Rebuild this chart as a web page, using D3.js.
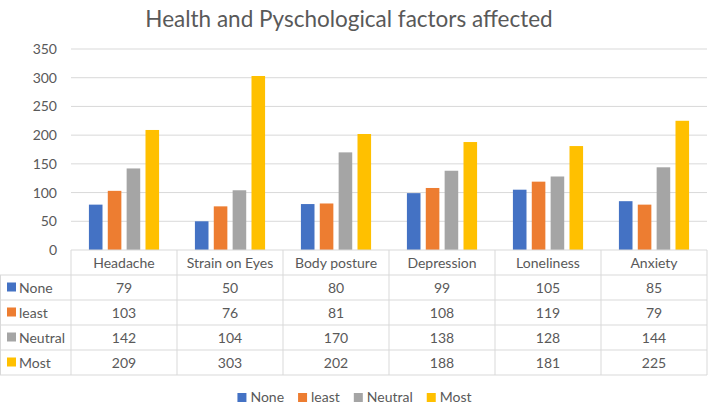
<!DOCTYPE html>
<html>
<head>
<meta charset="utf-8">
<script src="https://cdn.jsdelivr.net/npm/d3@7"></script>
<style>
  body { margin: 0; background: #fff; }
  svg text { font-family: Lato, "Open Sans", sans-serif; fill: #595959; }
</style>
</head>
<body>
<svg id="chart"></svg>
<script>
const categories = ['Headache', 'Strain on Eyes', 'Body posture', 'Depression', 'Loneliness', 'Anxiety'];
const seriesNames = ['None', 'least', 'Neutral', 'Most'];
const noneVals = [79, 50, 80, 99, 105, 85];
const leastVals = [103, 76, 81, 108, 119, 79];
const neutralVals = [142, 104, 170, 138, 128, 144];
const mostVals = [209, 303, 202, 188, 181, 225];
const yTicks = [0, 50, 100, 150, 200, 250, 300, 350];

const seriesValues = [noneVals, leastVals, neutralVals, mostVals];
const colors = ['#4472C4', '#ED7D31', '#A5A5A5', '#FFC000'];

const W = 709, H = 408;
const plotLeft = 71, plotRight = 707, plotTop = 49, base = 250;
const rowH = 25;

const svg = d3.select('#chart')
  .attr('width', W)
  .attr('height', H);

// title
svg.append('text')
  .attr('x', 349)
  .attr('y', 27)
  .attr('text-anchor', 'middle')
  .style('font-size', '22.5px')
  .text('Health and Pyschological factors affected');

const x = d3.scaleBand()
  .domain(categories)
  .range([plotLeft, plotRight]);

const xs = d3.scaleBand()
  .domain(seriesNames)
  .range([0, x.bandwidth()])
  .paddingInner(0.28)
  .paddingOuter(0.95);

const y = d3.scaleLinear()
  .domain([0, 350])
  .range([base, plotTop]);

// gridlines
svg.append('g')
  .selectAll('line')
  .data(yTicks.slice(1))
  .enter()
  .append('line')
  .attr('x1', plotLeft).attr('x2', plotRight)
  .attr('y1', d => y(d)).attr('y2', d => y(d))
  .attr('stroke', '#D9D9D9')
  .attr('stroke-width', 1);

// y axis labels
const yAxis = svg.append('g')
  .attr('transform', `translate(${plotLeft}, 0)`)
  .call(d3.axisLeft(y).tickValues(yTicks).tickSize(0).tickPadding(14));
yAxis.select('.domain').remove();
yAxis.selectAll('text')
  .style('font-size', '14px')
  .style('font-family', 'Lato, "Open Sans", sans-serif')
  .attr('fill', '#595959');

// bars
seriesNames.forEach((s, si) => {
  svg.append('g')
    .attr('fill', colors[si])
    .selectAll('rect')
    .data(seriesValues[si])
    .enter()
    .append('rect')
    .attr('x', (d, i) => x(categories[i]) + xs(s))
    .attr('y', d => y(d))
    .attr('width', xs.bandwidth())
    .attr('height', d => y(0) - y(d));
});

// data table
const table = svg.append('g');
const tableBottom = base + rowH * 5;
const lineColor = '#D9D9D9';

// horizontal lines
table.append('line')
  .attr('x1', plotLeft).attr('x2', plotRight)
  .attr('y1', base).attr('y2', base)
  .attr('stroke', lineColor);
d3.range(1, 6).forEach(r => {
  table.append('line')
    .attr('x1', 0).attr('x2', plotRight)
    .attr('y1', base + r * rowH).attr('y2', base + r * rowH)
    .attr('stroke', lineColor);
});
// vertical lines
const vx = categories.map(c => x(c)).concat([plotRight]);
vx.forEach(v => {
  table.append('line')
    .attr('x1', v).attr('x2', v)
    .attr('y1', base).attr('y2', tableBottom)
    .attr('stroke', lineColor);
});
table.append('line')
  .attr('x1', 0.5).attr('x2', 0.5)
  .attr('y1', base + rowH).attr('y2', tableBottom)
  .attr('stroke', lineColor);

// header
table.selectAll('text.cat')
  .data(categories)
  .enter()
  .append('text')
  .attr('class', 'cat')
  .attr('x', d => x(d) + x.bandwidth() / 2)
  .attr('y', base + rowH / 2 + 5)
  .attr('text-anchor', 'middle')
  .style('font-size', '14px')
  .text(d => d);

seriesNames.forEach((s, si) => {
  const ry = base + rowH * (si + 1);
  table.append('rect')
    .attr('x', 7).attr('y', ry + rowH / 2 - 5)
    .attr('width', 9).attr('height', 9)
    .attr('fill', colors[si]);
  table.append('text')
    .attr('x', 19)
    .attr('y', ry + rowH / 2 + 5)
    .style('font-size', '14px')
    .text(s);
  table.selectAll(null)
    .data(seriesValues[si])
    .enter()
    .append('text')
    .attr('x', (d, i) => x(categories[i]) + x.bandwidth() / 2)
    .attr('y', ry + rowH / 2 + 5)
    .attr('text-anchor', 'middle')
    .style('font-size', '14px')
    .text(d => d);
});

// legend
const legend = svg.append('g');
let lx = 0;
seriesNames.forEach((s, si) => {
  const item = legend.append('g').attr('transform', `translate(${lx}, 0)`);
  item.append('rect')
    .attr('x', 0).attr('y', -9)
    .attr('width', 9).attr('height', 9)
    .attr('fill', colors[si]);
  const t = item.append('text')
    .attr('x', 13).attr('y', 0)
    .style('font-size', '14px')
    .text(s);
  lx += 13 + t.node().getComputedTextLength() + 14;
});
const legendW = lx - 14;
legend.attr('transform', `translate(${(W - legendW) / 2}, 402)`);
</script>
</body>
</html>
